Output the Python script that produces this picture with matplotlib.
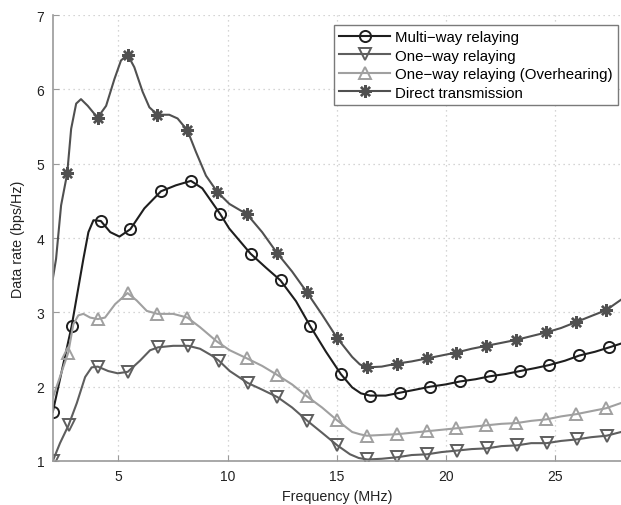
import matplotlib
matplotlib.use('Agg')
import matplotlib.pyplot as plt
from matplotlib.lines import Line2D

plt.rcParams['font.family'] = ['Liberation Sans', 'DejaVu Sans']

# Multi-way relaying: curve points and marker positions (MHz, bps/Hz)
multi_f = [2.0, 2.86, 3.40, 3.63, 3.86, 4.2, 4.63, 5.05, 5.55, 6.19, 6.95,
           7.63, 8.32, 8.84, 9.67, 10.07, 11.05, 11.76, 12.42, 13.13, 13.79,
           14.5, 15.18, 15.7, 16.1, 16.52, 17.23, 17.9, 18.6, 19.27, 19.97,
           20.63, 21.34, 22.0, 22.71, 23.37, 24.07, 24.7, 25.44, 26.1, 26.81,
           27.47, 28.0]
multi_v = [1.66, 2.81, 3.72, 4.08, 4.24, 4.23, 4.08, 4.02, 4.12, 4.40, 4.63,
           4.71, 4.77, 4.67, 4.32, 4.13, 3.79, 3.6, 3.43, 3.15, 2.81,
           2.47, 2.17, 1.99, 1.91, 1.88, 1.88, 1.92, 1.96, 2.0, 2.03,
           2.07, 2.10, 2.14, 2.17, 2.21, 2.25, 2.29, 2.35, 2.42, 2.47,
           2.53, 2.58]
multi_marks = [2.0, 2.86, 4.2, 5.55, 6.95, 8.32, 9.67, 11.05, 12.42, 13.79,
               15.18, 16.52, 17.9, 19.27, 20.63, 22.0, 23.37, 24.7, 26.1, 27.47]

# One-way relaying
one_f = [2.0, 2.33, 2.72, 3.1, 3.48, 3.78, 4.06, 4.54, 4.97, 5.43, 5.99, 6.45,
         6.82, 7.51, 8.2, 8.74, 9.27, 9.6, 10.1, 10.92, 11.58, 12.28, 12.95,
         13.65, 14.32, 15.02, 15.6, 16.0, 16.4, 17.05, 17.76, 18.42, 19.13,
         19.79, 20.5, 21.16, 21.87, 22.53, 23.24, 23.89, 24.6, 25.26, 25.97,
         26.63, 27.34, 28.0]
one_v = [1.0, 1.24, 1.48, 1.78, 2.13, 2.26, 2.27, 2.21, 2.18, 2.2, 2.35, 2.49,
         2.53, 2.55, 2.55, 2.51, 2.42, 2.35, 2.21, 2.05, 1.96, 1.86, 1.72,
         1.54, 1.38, 1.21, 1.09, 1.04, 1.02, 1.03, 1.05, 1.08, 1.09,
         1.12, 1.14, 1.16, 1.17, 1.2, 1.21, 1.24, 1.24, 1.27, 1.29,
         1.32, 1.34, 1.39]
one_marks = [2.0, 2.72, 4.06, 5.43, 6.82, 8.2, 9.6, 10.92, 12.28, 13.65, 15.02,
             16.4, 17.76, 19.13, 20.5, 21.87, 23.24, 24.6, 25.97, 27.34]

# One-way relaying (Overhearing)
oh_f = [2.0, 2.71, 2.94, 3.17, 3.40, 3.71, 4.06, 4.39, 4.85, 5.42, 5.84, 6.3,
        6.79, 7.51, 8.16, 8.74, 9.5, 10.1, 10.89, 11.58, 12.26, 12.95, 13.63,
        14.32, 15.0, 15.7, 16.05, 16.37, 17.05, 17.74, 18.42, 19.11, 19.79,
        20.47, 21.16, 21.84, 22.53, 23.21, 23.89, 24.58, 25.26, 25.95, 26.63,
        27.32, 28.0]
oh_v = [1.85, 2.46, 2.84, 2.96, 2.98, 2.93, 2.91, 2.93, 3.11, 3.26, 3.16, 3.02,
        2.98, 2.98, 2.93, 2.80, 2.61, 2.49, 2.38, 2.28, 2.16, 2.03, 1.87,
        1.72, 1.55, 1.39, 1.36, 1.34, 1.35, 1.36, 1.38, 1.40, 1.42,
        1.44, 1.46, 1.48, 1.5, 1.51, 1.54, 1.56, 1.6, 1.63, 1.67,
        1.71, 1.78]
oh_marks = [2.71, 4.06, 5.42, 6.79, 8.16, 9.5, 10.89, 12.26, 13.63, 15.0,
            16.37, 17.74, 19.11, 20.47, 21.84, 23.21, 24.58, 25.95, 27.32]

# Direct transmission
dir_f = [2.0, 2.15, 2.38, 2.66, 2.84, 3.07, 3.29, 3.6, 4.05, 4.44, 4.82, 5.12,
         5.42, 5.73, 6.11, 6.42, 6.79, 7.33, 7.71, 8.16, 8.55, 9.01, 9.53,
         10.08, 10.89, 11.58, 12.26, 12.95, 13.63, 14.32, 15.0, 15.7, 16.05,
         16.37, 17.05, 17.74, 18.42, 19.11, 19.79, 20.47, 21.16, 21.84, 22.53,
         23.21, 23.89, 24.58, 25.26, 25.95, 26.63, 27.32, 28.0]
dir_v = [3.45, 3.72, 4.44, 4.87, 5.47, 5.81, 5.87, 5.78, 5.62, 5.78, 6.14, 6.39,
         6.47, 6.30, 5.97, 5.76, 5.66, 5.66, 5.61, 5.45, 5.16, 4.84, 4.62,
         4.46, 4.32, 4.08, 3.8, 3.55, 3.27, 2.97, 2.66, 2.40, 2.30,
         2.26, 2.27, 2.31, 2.34, 2.38, 2.42, 2.46, 2.51, 2.55, 2.59,
         2.63, 2.68, 2.73, 2.79, 2.87, 2.95, 3.03, 3.17]
dir_marks = [2.66, 4.05, 5.42, 6.79, 8.16, 9.53, 10.89, 12.26, 13.63, 15.0,
             16.37, 17.74, 19.11, 20.47, 21.84, 23.21, 24.58, 25.95, 27.32]

labels = ['Multi\u2212way relaying', 'One\u2212way relaying',
          'One\u2212way relaying (Overhearing)', 'Direct transmission']

styles = [
    dict(color='#1e1e1e', marker='o', ms=8, mfc='none', mew=1.4),
    dict(color='#5e5e5e', marker='v', ms=9, mfc='none', mew=1.4),
    dict(color='#a0a0a0', marker='^', ms=9, mfc='none', mew=1.4),
    dict(color='#505050', marker=(8, 2, 0), ms=9, mew=1.7),
]
series = [(multi_f, multi_v, multi_marks), (one_f, one_v, one_marks),
          (oh_f, oh_v, oh_marks), (dir_f, dir_v, dir_marks)]

fig = plt.figure(figsize=(6.21, 5.06), dpi=100)
ax = fig.add_axes([0.085, 0.087, 0.915, 0.881])

for (f, v, marks), st in zip(series, styles):
    mask = [x in marks for x in f]
    ax.plot(f, v, lw=1.5, markevery=mask, **st)

ax.set_xlim(2, 28)
ax.set_ylim(1, 7)
ax.set_xticks([5, 10, 15, 20, 25])
ax.set_yticks([1, 2, 3, 4, 5, 6, 7])
ax.grid(True, linestyle=(0, (1, 3)), color='#c8c8c8', lw=0.9)
ax.set_axisbelow(True)
for s in ['top', 'right']:
    ax.spines[s].set_visible(False)
for s in ['left', 'bottom']:
    ax.spines[s].set_color('#9a9a9a')
    ax.spines[s].set_linewidth(1.2)
ax.tick_params(direction='in', length=4, color='#9a9a9a', labelsize=10,
               labelcolor='#222222', pad=6)
ax.set_xlabel('Frequency (MHz)', fontsize=10.3, color='#222222', labelpad=4)
ax.set_ylabel('Data rate (bps/Hz)', fontsize=10.3, color='#222222', labelpad=8)

handles = [Line2D([], [], lw=1.5, **st) for st in styles]
leg = ax.legend(handles, labels, loc='upper right', bbox_to_anchor=(0.994, 0.978),
                fontsize=10.8, handlelength=3.4, handletextpad=0.3,
                labelspacing=0.3, borderpad=0.35, borderaxespad=0,
                fancybox=False, framealpha=1, edgecolor='#7a7a7a')
leg.get_frame().set_linewidth(1.0)

fig.savefig('out.png', dpi=100)
